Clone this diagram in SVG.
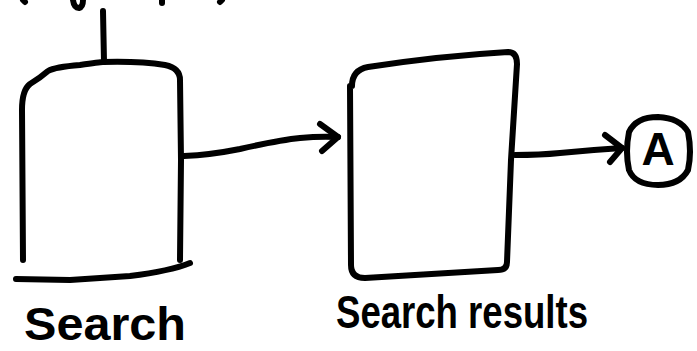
<svg xmlns="http://www.w3.org/2000/svg" width="697" height="351" viewBox="0 0 697 351">
  <style>
    .ink { fill: none; stroke: #000; stroke-width: 6; stroke-linecap: round; stroke-linejoin: round; }
    .label { font-family: "Liberation Sans", "DejaVu Sans", sans-serif; font-weight: bold; fill: #000; }
  </style>
  <rect width="697" height="351" fill="#fff"/>

  <!-- stroke ends of handwriting running off the top edge -->
  <g id="top-fragments" class="ink">
    <path d="M23 0 L25 2"/>
    <path d="M73 0 Q74 8 79 8 Q83 7 83 0"/>
    <path d="M162 0 L162 3"/>
    <path d="M222 0 L220 2"/>
  </g>

  <!-- Search box -->
  <g id="search">
    <path class="ink" d="M103 11 L104 62"/>
    <path class="ink" d="M23 260 L22 110 Q22 90 30 84 Q40 78 48 71 Q55 67 80 65 Q100 62 103 62 Q140 61 165 65 Q180 68 180 80 L181 160 L180 260"/>
    <path class="ink" d="M16 279 L70 280 Q100 278 130 276 Q170 271 190 263"/>
    <text class="label" x="24" y="340" font-size="46" textLength="162" lengthAdjust="spacingAndGlyphs">Search</text>
  </g>

  <!-- Search results box -->
  <g id="search-results">
    <path class="ink" d="M352 86 Q352 70 368 67 Q440 56 508 52 Q517 52 517 64 L511 160 L507 262 Q507 270 498 270 L365 278 Q351 278 351 265 L350 86"/>
    <text class="label" x="336" y="328" font-size="46" textLength="252" lengthAdjust="spacingAndGlyphs">Search results</text>
  </g>

  <!-- Connector A -->
  <g id="connector-a">
    <path class="ink" d="M658 117 Q680 118 688 132 Q692 152 688 170 Q680 185 658 185 Q635 185 629 170 Q625 152 629 132 Q636 117 658 117 Z"/>
    <text class="label" x="658" y="165" font-size="46" text-anchor="middle">A</text>
  </g>

  <g id="connectors" class="ink">
    <path d="M184 156 Q210 155 240 149 Q280 140 300 138 Q320 136 338 137"/>
    <path d="M320 124 L338 137 L322 151"/>
    <path d="M515 155 Q540 155 560 153 Q590 150 622 148"/>
    <path d="M605 135 L622 148 L610 162"/>
  </g>
</svg>
